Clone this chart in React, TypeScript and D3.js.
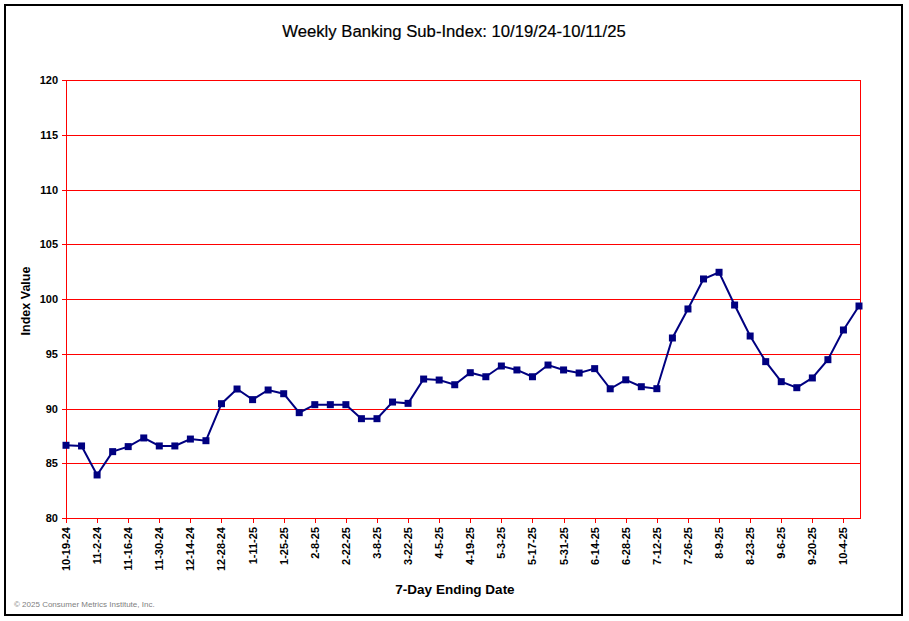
import React from "react";
import * as d3 from "d3";

const dateLabels = [
  "10-19-24", "11-2-24", "11-16-24", "11-30-24", "12-14-24", "12-28-24",
  "1-11-25", "1-25-25", "2-8-25", "2-22-25", "3-8-25", "3-22-25", "4-5-25",
  "4-19-25", "5-3-25", "5-17-25", "5-31-25", "6-14-25", "6-28-25", "7-12-25",
  "7-26-25", "8-9-25", "8-23-25", "9-6-25", "9-20-25", "10-4-25",
];

const values = [
  86.64, 86.58, 83.93, 86.06, 86.52, 87.31, 86.58, 86.58, 87.21, 87.06,
  90.44, 91.78, 90.81, 91.69, 91.35, 89.62, 90.35, 90.35, 90.35, 89.07,
  89.07, 90.59, 90.47, 92.69, 92.6, 92.17, 93.27, 92.9, 93.88, 93.52,
  92.9, 93.97, 93.52, 93.24, 93.64, 91.8, 92.62, 91.99, 91.81, 96.44,
  99.09, 101.83, 102.44, 99.45, 96.62, 94.28, 92.45, 91.9, 92.79, 94.46,
  97.17, 99.36,
];

const yTicks = [80, 85, 90, 95, 100, 105, 110, 115, 120];

const W = 909;
const H = 621;
const left = 66;
const right = 860;
const top = 80;
const bottom = 518;

export default function App() {
  const x = d3.scaleLinear().domain([0, values.length - 1]).range([left, right - 1]);
  const y = d3.scaleLinear().domain([80, 120]).range([bottom, top]);
  const line = d3
    .line<number>()
    .x((_, i) => x(i))
    .y((d) => y(d));
  const font = "'Liberation Sans', Arial, sans-serif";
  return (
    <svg
      width={W}
      height={H}
      style={{ position: "absolute", left: 0, top: 0, background: "#fff" }}
      fontFamily={font}
    >
      <rect x={0} y={0} width={W} height={H} fill="#fff" />
      <rect x={5} y={5} width={897} height={610} fill="none" stroke="#000" strokeWidth={2} />
      <text x={454} y={37} textAnchor="middle" fontSize={16.7} fill="#000" stroke="#000" strokeWidth={0.2}>
        Weekly Banking Sub-Index: 10/19/24-10/11/25
      </text>
      {yTicks.map((t) => (
        <g key={t}>
          <line x1={left - 4} x2={right} y1={Math.round(y(t)) + 0.5} y2={Math.round(y(t)) + 0.5} stroke="#ff0000" strokeWidth={1} />
          <text
            x={58}
            y={y(t) + 4}
            textAnchor="end"
            fontSize={11}
            fontWeight="bold"
            fill="#000"
          >
            {t}
          </text>
        </g>
      ))}
      <line x1={left + 0.5} x2={left + 0.5} y1={top} y2={bottom + 5} stroke="#ff0000" strokeWidth={1} />
      <line x1={right + 0.5} x2={right + 0.5} y1={top} y2={bottom + 1} stroke="#ff0000" strokeWidth={1} />
      {dateLabels.map((lab, k) => {
        const xi = x(k * 2);
        return (
          <g key={lab}>
            <line x1={Math.round(xi) + 0.5} x2={Math.round(xi) + 0.5} y1={bottom} y2={bottom + 5} stroke="#ff0000" strokeWidth={1} />
            <text
              transform={`translate(${xi + 4},${527}) rotate(-90)`}
              textAnchor="end"
              fontSize={11}
              fontWeight="bold"
              fill="#000"
            >
              {lab}
            </text>
          </g>
        );
      })}
      <path d={line(values) || ""} fill="none" stroke="#000080" strokeWidth={2} />
      {values.map((v, i) => (
        <rect key={i} x={x(i) - 3.5} y={y(v) - 3.5} width={7} height={7} fill="#000080" />
      ))}
      <text
        transform={`translate(30,301) rotate(-90)`}
        textAnchor="middle"
        fontSize={12.5}
        fontWeight="bold"
        fill="#000"
      >
        Index Value
      </text>
      <text x={455} y={594} textAnchor="middle" fontSize={13.5} fontWeight="bold" fill="#000">
        7-Day Ending Date
      </text>
      <text x={14} y={607} fontSize={8} fill="#808080">
        © 2025 Consumer Metrics Institute, Inc.
      </text>
    </svg>
  );
}
